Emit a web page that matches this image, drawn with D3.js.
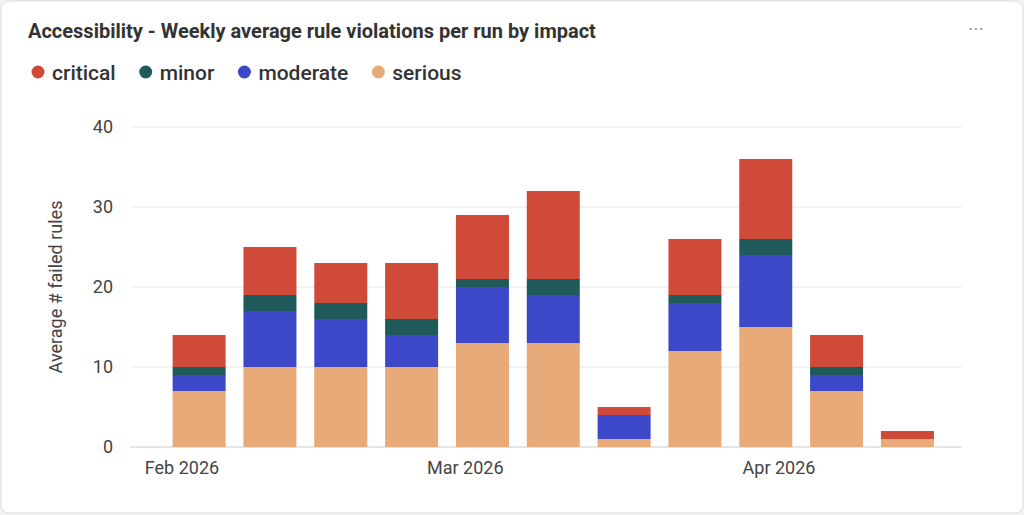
<!DOCTYPE html><html><head><meta charset="utf-8">
<script src="https://cdn.jsdelivr.net/npm/d3@7"></script>
<style>body{margin:0;background:#f2f2f2;font-family:Roboto,sans-serif}</style></head><body>
<svg id="c" width="1024" height="515"></svg>
<script>
const weeks=["2026-02-02","2026-02-09","2026-02-16","2026-02-23","2026-03-02","2026-03-09","2026-03-16","2026-03-23","2026-03-30","2026-04-06","2026-04-13"];
const serious=[7,10,10,10,13,13,1,12,15,7,1];
const moderate=[2,7,6,4,7,6,3,6,9,2,0];
const minor=[1,2,2,2,1,2,0,1,2,1,0];
const critical=[4,6,5,7,8,11,1,7,10,4,1];
const keys=["serious","moderate","minor","critical"];
const legendKeys=["critical","minor","moderate","serious"];
const colors={critical:"#d04a3a",minor:"#1f5a5a",moderate:"#3c48c8",serious:"#e8aa78"};
const yTicks=[0,10,20,30,40];
const xTicks=["2026-02-01","2026-03-01","2026-04-01"];
const series={serious,moderate,minor,critical};
const pt=d3.timeParse("%Y-%m-%d");
const data=weeks.map((w,i)=>{const o={date:pt(w)};keys.forEach(k=>o[k]=series[k][i]);return o;});
const svg=d3.select("#c");
svg.append("rect").attr("x",1).attr("y",1).attr("width",1022).attr("height",512).attr("rx",8).attr("fill","#fff").attr("stroke","#ddd");
svg.append("text").attr("x",28).attr("y",38).attr("font-size",20).attr("font-weight",700).attr("fill","#333").text("Accessibility - Weekly average rule violations per run by impact");
svg.append("text").attr("x",968).attr("y",36).attr("font-size",20).attr("fill","#999").text("···");
let lx=30;
legendKeys.forEach(k=>{const g=svg.append("g");g.append("circle").attr("cx",lx+8).attr("cy",72).attr("r",6.5).attr("fill",colors[k]);
const t=g.append("text").attr("x",lx+22).attr("y",80).attr("font-size",21).attr("font-weight",500).attr("fill","#333").text(k);
lx+=22+t.node().getComputedTextLength()+22;});
const x=d3.scaleTime().domain([pt("2026-02-01"),pt("2026-04-01")]).range([182,779]);
const y=d3.scaleLinear().domain([0,40]).range([447,127]);
const bw=53;
yTicks.forEach(t=>{svg.append("line").attr("x1",130).attr("x2",962).attr("y1",y(t)).attr("y2",y(t)).attr("stroke",t?"#e8e8e8":"#ccc");
svg.append("text").attr("x",113).attr("y",y(t)+6).attr("text-anchor","end").attr("font-size",18).attr("fill","#444").text(t);});
xTicks.forEach(t=>svg.append("text").attr("x",x(pt(t))).attr("y",474).attr("text-anchor","middle").attr("font-size",18).attr("fill","#444").text(d3.timeFormat("%b %Y")(pt(t))));
svg.append("text").attr("transform","translate(62,287) rotate(-90)").attr("text-anchor","middle").attr("font-size",18).attr("fill","#444").text("Average # failed rules");
const st=d3.stack().keys(keys)(data);
svg.selectAll("g.s").data(st).join("g").attr("fill",d=>colors[d.key]).selectAll("rect").data(d=>d).join("rect")
.attr("x",d=>x(d.data.date)-bw/2+7).attr("width",bw).attr("y",d=>y(d[1])).attr("height",d=>y(d[0])-y(d[1]));
</script></body></html>
